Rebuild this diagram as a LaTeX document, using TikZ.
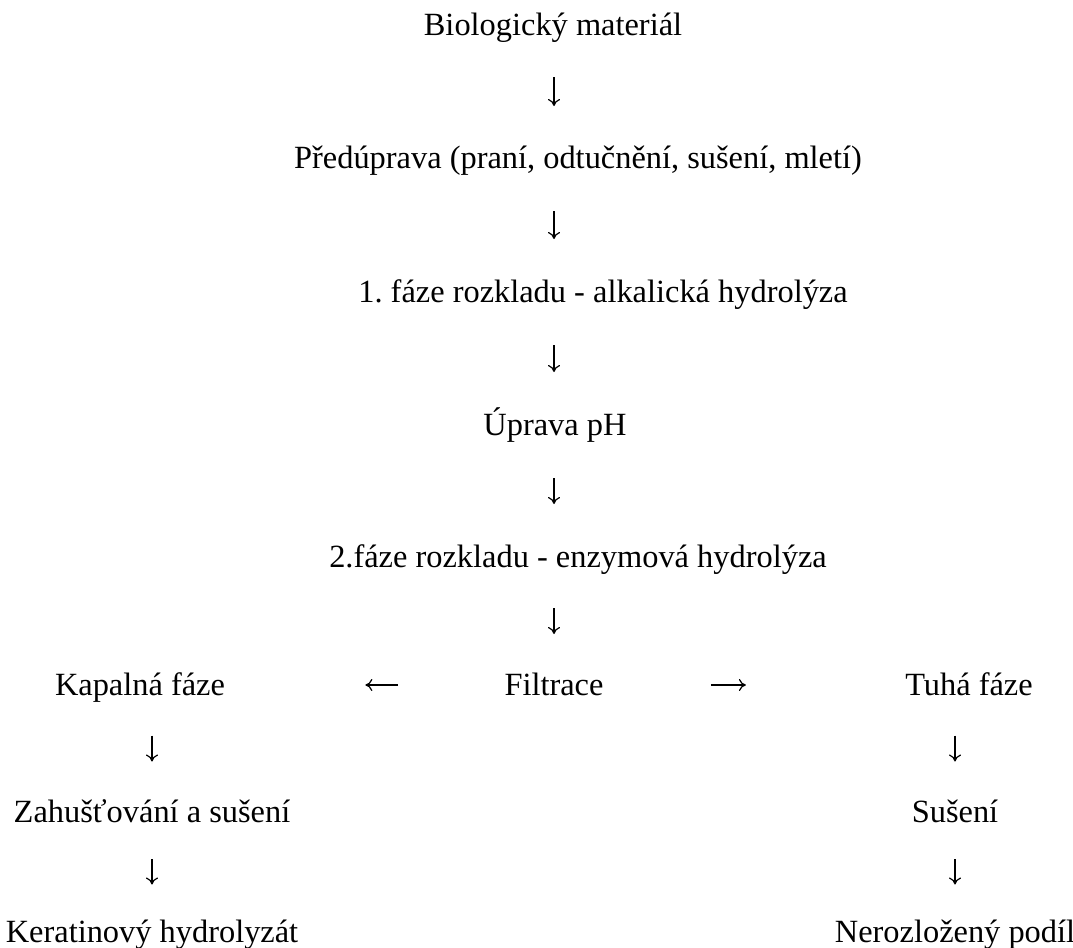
\documentclass[tikz,border=0pt]{standalone}
\usepackage{fontspec}
\setmainfont{Liberation Serif}
\usetikzlibrary{arrows.meta}
\frenchspacing

\begin{document}
\begin{tikzpicture}[x=0.5pt, y=-0.5pt]
  \tikzset{
    stage/.style={inner sep=0pt, text height=10.6pt, text depth=0pt,
      font=\fontsize{16.2}{19}\selectfont},
    arr/.style={-{To[length=3.5pt, width=6pt]}, line width=0.6pt, color=black},
    dn/.style={arr, shorten <=#1, shorten >=#1},
    dn/.default=21pt
  }
  \useasboundingbox (0,0) rectangle (1073,948);
  \node[stage] (bio) at (553,25) {Biologický materiál};
  \node[stage] (pre) at (578,158) {Předúprava (praní, odtučnění, sušení, mletí)};
  \node[stage] (faze1) at (603,292) {1. fáze rozkladu - alkalická hydrolýza};
  \node[stage] (uprava) at (555,425) {Úprava pH};
  \node[stage] (faze2) at (578,557) {2.fáze rozkladu - enzymová hydrolýza};
  \node[stage] (filt) at (554,685) {Filtrace};
  \node[stage] (kap) at (140,685) {Kapalná fáze};
  \node[stage] (tuha) at (969,685) {Tuhá fáze};
  \node[stage] (zah) at (152,812) {Zahušťování a sušení};
  \node[stage] (suseni) at (955,812) {Sušení};
  \node[stage] (ker) at (152,931.5) {Keratinový hydrolyzát};
  \node[stage] (nero) at (955,931.5) {Nerozložený podíl};
  \draw[dn=20.5pt] (filt |- bio.south) -- (filt |- pre.north);
  \draw[dn] (filt |- pre.south) -- (filt |- faze1.north);
  \draw[dn] (filt |- faze1.south) -- (filt |- uprava.north);
  \draw[dn] (filt |- uprava.south) -- (filt |- faze2.north);
  \draw[dn=20pt] (filt |- faze2.south) -- (filt.north);
  \draw[arr, shorten <=53pt, shorten >=70pt] (filt.west) -- (kap.east);
  \draw[arr, shorten <=53.5pt, shorten >=79.5pt] (filt.east) -- (tuha.west);
  \draw[dn=19.75pt] (zah |- kap.south) -- (zah.north);
  \draw[dn=19.75pt] (suseni |- tuha.south) -- (suseni.north);
  \draw[dn=18pt] (zah.south) -- (ker.north);
  \draw[dn=18pt] (suseni.south) -- (nero.north);
\end{tikzpicture}
\end{document}
